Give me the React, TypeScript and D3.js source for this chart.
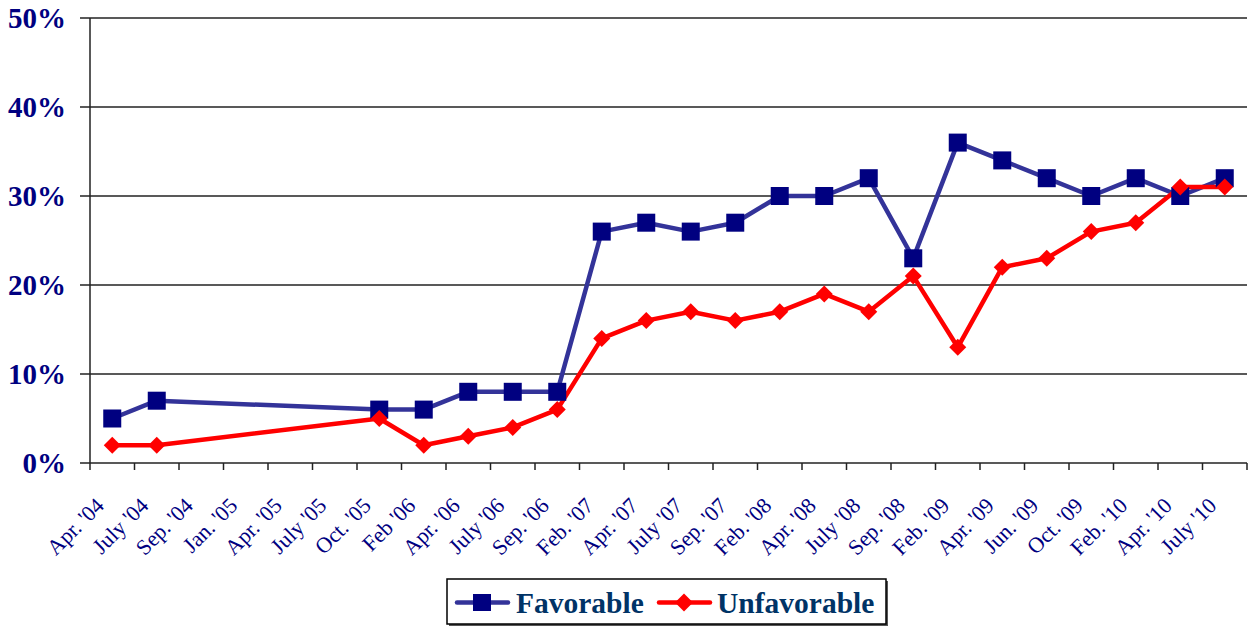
import React from "react";
import * as d3 from "d3";

const categories = ["Apr. '04", "July '04", "Sep. '04", "Jan. '05", "Apr. '05", "July '05", "Oct. '05", "Feb '06", "Apr. '06", "July '06", "Sep. '06", "Feb. '07", "Apr. '07", "July '07", "Sep. '07", "Feb. '08", "Apr. '08", "July '08", "Sep. '08", "Feb. '09", "Apr. '09", "Jun. '09", "Oct. '09", "Feb. '10", "Apr. '10", "July '10"];
const favorable: (number | null)[] = [5, 7, null, null, null, null, 6, 6, 8, 8, 8, 26, 27, 26, 27, 30, 30, 32, 23, 36, 34, 32, 30, 32, 30, 32];
const unfavorable: (number | null)[] = [2, 2, null, null, null, null, 5, 2, 3, 4, 6, 14, 16, 17, 16, 17, 19, 17, 21, 13, 22, 23, 26, 27, 31, 31];
const yTicks = [0, 10, 20, 30, 40, 50];

const W = 1249, H = 629;
const left = 90, right = 1247, top = 18, bottom = 463;
const navy = "#000080";
const favLine = "#333399";
const red = "#FF0000";
const serif = "'Liberation Serif', 'Times New Roman', serif";

export default function App() {
  const x = d3.scaleBand<string>().domain(categories).range([left, right]).paddingInner(0).paddingOuter(0);
  const y = d3.scaleLinear().domain([0, 50]).range([bottom, top]);
  const cx = (c: string) => (x(c) as number) + x.bandwidth() / 2;

  const favPts = categories.map((c, i) => ({ c, v: favorable[i] })).filter(d => d.v !== null) as { c: string; v: number }[];
  const unfPts = categories.map((c, i) => ({ c, v: unfavorable[i] })).filter(d => d.v !== null) as { c: string; v: number }[];
  const line = d3.line<{ c: string; v: number }>().x(d => cx(d.c)).y(d => y(d.v));

  const sq = 18;
  const dm = 8.5;
  const diamond = (px: number, py: number, r = dm) => `M${px},${py - r}L${px + r},${py}L${px},${py + r}L${px - r},${py}Z`;

  const tickXs = categories.map(c => x(c) as number).concat([right]);

  return (
    <svg width={W} height={H} style={{ position: "absolute", left: 0, top: 0, background: "#fff" }}>
      {yTicks.map(t => (
        <g key={t}>
          <line x1={left - 10} x2={right} y1={y(t)} y2={y(t)} stroke="#222" strokeWidth={1.5} />
          <text x={66} y={y(t) + 10} textAnchor="end" fontFamily={serif} fontWeight="bold" fontSize={29} fill={navy}>{t}%</text>
        </g>
      ))}
      <line x1={left} x2={left} y1={top} y2={bottom} stroke="#222" strokeWidth={1.5} />
      {tickXs.map((tx, i) => (
        <line key={i} x1={tx} x2={tx} y1={bottom} y2={bottom + 7} stroke="#222" strokeWidth={1.5} />
      ))}
      {categories.map(c => (
        <text key={c} transform={`translate(${cx(c) - 7},${507}) rotate(-45)`} textAnchor="end" fontFamily={serif} fontSize={22} fill={navy}>{c}</text>
      ))}
      <path d={line(favPts) || ""} fill="none" stroke={favLine} strokeWidth={4.5} strokeLinejoin="round" />
      <path d={line(unfPts) || ""} fill="none" stroke={red} strokeWidth={4.5} strokeLinejoin="round" />
      {favPts.map(d => (
        <rect key={d.c} x={cx(d.c) - sq / 2} y={y(d.v) - sq / 2} width={sq} height={sq} fill={navy} />
      ))}
      {unfPts.map(d => (
        <path key={d.c} d={diamond(cx(d.c), y(d.v))} fill={red} />
      ))}
      <rect x={449} y={581} width={439} height={45} fill="#555" />
      <rect x={447} y={579} width={439} height={45} fill="#fff" stroke="#000" strokeWidth={1.5} />
      <line x1={457} x2={508} y1={602.5} y2={602.5} stroke={favLine} strokeWidth={4.5} strokeLinecap="round" />
      <rect x={482 - 9} y={602.5 - 8.5} width={18} height={17} fill={navy} />
      <text x={516} y={613} fontFamily={serif} fontWeight="bold" fontSize={29.5} fill="#003366">Favorable</text>
      <line x1={659} x2={710} y1={602.5} y2={602.5} stroke={red} strokeWidth={4.5} strokeLinecap="round" />
      <path d={diamond(684, 602.5, 9)} fill={red} />
      <text x={717} y={613} fontFamily={serif} fontWeight="bold" fontSize={29.5} fill="#003366">Unfavorable</text>
    </svg>
  );
}
